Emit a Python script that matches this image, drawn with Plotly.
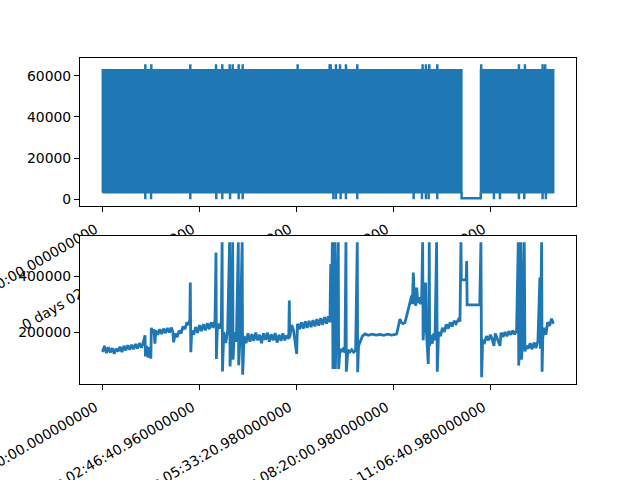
import plotly.graph_objects as go

BLUE = "#1f77b4"
FONT = "DejaVu Sans"

# ---- tick labels (shared by both panels) ----
tick_vals = [0, 10000.96, 20000.98, 30000.98, 40000.98]
tick_text = [
    "0 days 00:00:00.000000000",
    "0 days 02:46:40.960000000",
    "0 days 05:33:20.980000000",
    "0 days 08:20:00.980000000",
    "0 days 11:06:40.980000000",
]
t_end = 46500  # seconds, last sample

# ---- top panel: dense oscillating signal ----
block_starts = [0, 39000]
block_ends = [37030, 46500]
block_low = 3300
block_high = 62800
gap_start = 37030
gap_end = 39000
gap_value = 500
spike_top = 65535
spike_bottom = 0
up_spike_t = [4410, 5030, 9050, 11700, 12350, 13110, 13420, 14040, 14450, 20120,
              23420, 23530, 24070, 24490, 25100, 26270, 33010, 33350, 33690, 34520,
              39050, 42940, 43560, 45380, 45650]
down_spike_t = [4410, 5000, 9050, 11730, 12350, 13150, 14040, 14450, 23800, 24070,
                24550, 25100, 26270, 32080, 32940, 33350, 33630, 34520, 40360, 40980,
                42940, 43490, 45380, 45720]

# ---- bottom panel ----
bottom_t = [0, 200, 400, 600, 800, 1000, 1200, 1400, 1600, 1800, 2000, 2200, 2400, 2600,
            2800, 3000, 3200, 3400, 3600, 3800, 4000, 4200, 4380, 4420, 4550, 4700, 4850,
            4980, 5030, 5150, 5300, 5400, 5500, 5700, 5900, 6100, 6300, 6500, 6700, 6900,
            7100, 7250, 7330, 7500, 7700, 7900, 8100, 8300, 8500, 8700, 8900, 9000, 9050,
            9100, 9200, 9400, 9600, 9800, 10000, 10200, 10400, 10600, 10800, 11000, 11200,
            11400, 11600, 11700, 11740, 11850, 12050, 12250, 12330, 12370, 12500, 12700,
            12900, 13100, 13150, 13300, 13420, 13460, 13600, 13800, 14000, 14040, 14200,
            14400, 14450, 14600, 14800, 15000, 15200, 15400, 15600, 15800, 16000, 16200,
            16400, 16600, 16800, 17000, 17200, 17400, 17600, 17800, 18000, 18200, 18400,
            18600, 18800, 19000, 19200, 19260, 19300, 19500, 19700, 20020, 20100, 20300,
            20500, 20700, 20900, 21100, 21300, 21500, 21700, 21900, 22100, 22300, 22500,
            22700, 22900, 23100, 23300, 23450, 23530, 23600, 23700, 23760, 23850, 23970,
            24010, 24100, 24310, 24350, 24490, 24600, 24800, 25000, 25100, 25140, 25300,
            25500, 25700, 25900, 26100, 26270, 26310, 26400, 26600, 26800, 27060, 27400,
            27800, 28200, 28600, 29000, 29400, 29800, 30200, 30330, 30670, 30800, 31000,
            31190, 31880, 31950, 32050, 32150, 32300, 32400, 32500, 32650, 32800, 32910,
            33010, 33060, 33200, 33320, 33400, 33590, 33650, 33690, 33730, 33850, 34000,
            34150, 34280, 34450, 34520, 34650, 34850, 35050, 35250, 35450, 35650, 35850,
            36050, 36250, 36450, 36700, 36860, 36960, 37000, 37500, 37550, 37600, 38900,
            39020, 39090, 39200, 39400, 39600, 39800, 40000, 40200, 40360, 40500, 40700,
            40980, 41100, 41300, 41500, 41700, 41900, 42100, 42300, 42500, 42700, 42870,
            42920, 43000, 43150, 43200, 43300, 43490, 43560, 43700, 43900, 44100, 44300,
            44500, 44700, 44900, 45100, 45150, 45280, 45330, 45400, 45600, 45720, 45900,
            46100, 46300, 46500]
bottom_v = [128000, 150000, 124000, 145000, 126000, 142000, 122000, 140000, 130000, 147000,
            128000, 150000, 134000, 152000, 136000, 154000, 138000, 157000, 140000, 160000,
            143000, 162000, 188000, 112000, 150000, 108000, 145000, 104000, 215000, 195000,
            210000, 158000, 205000, 190000, 210000, 193000, 212000, 196000, 214000, 198000,
            216000, 200000, 163000, 195000, 182000, 205000, 195000, 220000, 210000, 235000,
            225000, 245000, 378000, 127000, 205000, 190000, 218000, 197000, 225000, 203000,
            228000, 206000, 232000, 210000, 235000, 215000, 242000, 486000, 103000, 230000,
            212000, 238000, 523000, 58000, 200000, 160000, 205000, 523000, 76000, 195000,
            523000, 100000, 200000, 165000, 523000, 80000, 190000, 523000, 46000, 185000,
            160000, 195000, 165000, 192000, 168000, 198000, 170000, 190000, 160000, 195000,
            172000, 198000, 165000, 192000, 170000, 196000, 162000, 190000, 168000, 195000,
            170000, 188000, 175000, 313000, 180000, 225000, 205000, 121000, 230000, 210000,
            235000, 212000, 238000, 215000, 240000, 218000, 243000, 220000, 246000, 223000,
            250000, 226000, 254000, 230000, 256000, 235000, 445000, 260000, 523000, 67000,
            440000, 523000, 67000, 200000, 523000, 67000, 140000, 128000, 138000, 126000,
            523000, 57000, 135000, 128000, 136000, 127000, 134000, 523000, 55000, 150000,
            170000, 185000, 193000, 188000, 192000, 189000, 191000, 188000, 192000, 189000,
            191000, 193000, 247000, 235000, 230000, 234000, 331000, 300000, 414000, 315000,
            295000, 360000, 305000, 325000, 300000, 318000, 523000, 170000, 260000, 378000,
            200000, 85000, 190000, 523000, 150000, 190000, 158000, 195000, 170000, 523000,
            57000, 200000, 185000, 215000, 200000, 228000, 212000, 235000, 220000, 240000,
            230000, 245000, 238000, 523000, 388000, 388000, 456000, 298000, 298000, 523000,
            37000, 170000, 163000, 185000, 170000, 190000, 172000, 150000, 195000, 178000,
            150000, 198000, 182000, 200000, 185000, 203000, 190000, 205000, 192000, 205000,
            523000, 79000, 170000, 523000, 100000, 155000, 523000, 130000, 150000, 140000,
            160000, 138000, 162000, 142000, 168000, 396000, 140000, 523000, 57000, 180000,
            215000, 190000, 235000, 222000, 248000, 230000]

# ---- derived plotting structures ----
def padded(lo, hi, frac=0.05):
    d = (hi - lo) * frac
    return [lo - d, hi + d]

x_range = padded(0, t_end)
top_y_range = padded(spike_bottom, spike_top)
bot_y_range = padded(min(bottom_v), max(bottom_v))

bx, by = [], []
for s, e in zip(block_starts, block_ends):
    bx += [s, s, e, e, s, None]
    by += [block_low, block_high, block_high, block_low, block_low, None]

lx = [gap_start, gap_start, gap_end, gap_end, None]
ly = [block_low, gap_value, gap_value, block_low, None]
for t in up_spike_t:
    lx += [t, t, None]
    ly += [block_high, spike_top, None]
for t in down_spike_t:
    lx += [t, t, None]
    ly += [block_low, spike_bottom, None]

fig = go.Figure()
fig.add_trace(go.Scatter(x=bx, y=by, mode="lines", fill="toself", fillcolor=BLUE,
                         line=dict(color=BLUE, width=2), xaxis="x", yaxis="y",
                         hoverinfo="skip"))
fig.add_trace(go.Scatter(x=lx, y=ly, mode="lines", line=dict(color=BLUE, width=2.5),
                         xaxis="x", yaxis="y", hoverinfo="skip"))
fig.add_trace(go.Scatter(x=bottom_t, y=bottom_v, mode="lines",
                         line=dict(color=BLUE, width=2.8), xaxis="x2", yaxis="y2"))

axis_common = dict(showline=True, mirror=True, linecolor="black", linewidth=1.1,
                   ticks="outside", ticklen=5, tickwidth=1.1, tickcolor="black",
                   showgrid=False, zeroline=False, automargin=False,
                   ticklabeloverflow="allow",
                   tickfont=dict(family=FONT, size=13.9, color="black"))
x_label_pos = dict(ticklabelshift=-7, ticklabelstandoff=4)

fig.update_layout(
    width=640, height=480,
    margin=dict(l=0, r=0, t=0, b=0, autoexpand=False),
    paper_bgcolor="white", plot_bgcolor="white",
    showlegend=False,
    font=dict(family=FONT, size=13.9, color="black"),
    xaxis=dict(domain=[0.125, 0.9], anchor="y", range=x_range, tickmode="array",
               tickvals=tick_vals, ticktext=tick_text, tickangle=-30,
               **x_label_pos, **axis_common),
    yaxis=dict(domain=[0.5708, 0.88], anchor="x", range=top_y_range, tickmode="array",
               tickvals=[0, 20000, 40000, 60000], ticktext=["0", "20000", "40000", "60000"],
               **axis_common),
    xaxis2=dict(domain=[0.125, 0.9], anchor="y2", range=x_range, tickmode="array",
                tickvals=tick_vals, ticktext=tick_text, tickangle=-30,
                **x_label_pos, **axis_common),
    yaxis2=dict(domain=[0.2, 0.5092], anchor="x2", range=bot_y_range, tickmode="array",
                tickvals=[200000, 400000], ticktext=["200000", "400000"], **axis_common),
    shapes=[dict(type="rect", xref="x2", yref="y2", x0=x_range[0], x1=x_range[1],
                 y0=bot_y_range[0], y1=bot_y_range[1], fillcolor="white",
                 line=dict(width=0), layer="below")],
)

fig.write_html("out.html", config={"displayModeBar": False},
               post_script="document.body.style.margin='0';")
